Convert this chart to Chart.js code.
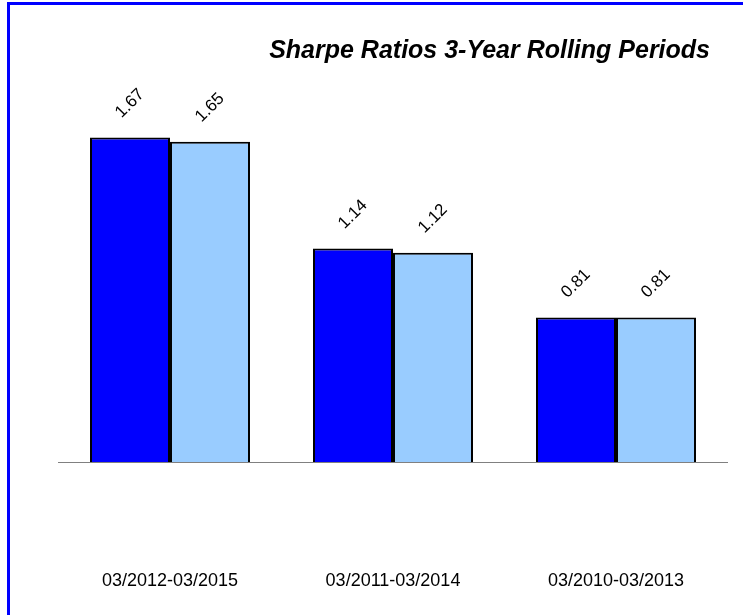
<!DOCTYPE html>
<html>
<head>
<meta charset="utf-8">
<script src="https://cdn.jsdelivr.net/npm/chart.js@4"></script>
<style>
    body { margin: 0; background: #fff; }
    .wrap { position: relative; width: 743px; height: 615px; overflow: hidden; }
    .frame {
        position: absolute; left: 7px; top: 2px; width: 760px; height: 640px;
        border-left: 3px solid #0000ff; border-top: 3px solid #0000ff;
        pointer-events: none;
    }
    canvas { position: absolute; left: 0; top: 0; }
</style>
</head>
<body>
<div class="wrap">
    <canvas id="myChart" width="743" height="615"></canvas>
    <div class="frame"></div>
</div>
<script>
const chartTitle = "Sharpe Ratios 3-Year Rolling Periods";
const periods = ["03/2012-03/2015", "03/2011-03/2014", "03/2010-03/2013"];
const seriesA = [1.67, 1.14, 0.81];
const seriesB = [1.65, 1.12, 0.81];

const fontFamily = "'Liberation Sans', Arial, sans-serif";

// rotated value labels above each bar
const valueLabels = {
    id: "valueLabels",
    afterDatasetsDraw: (chart) => {
        const ctx = chart.ctx;
        ctx.save();
        ctx.font = "17px " + fontFamily;
        ctx.fillStyle = "#000";
        ctx.textAlign = "center";
        ctx.textBaseline = "middle";
        chart.data.datasets.forEach((ds, i) => {
            chart.getDatasetMeta(i).data.forEach((bar, j) => {
                ctx.save();
                ctx.translate(bar.x, bar.y - 34);
                ctx.rotate(-Math.PI / 4);
                ctx.fillText(ds.data[j].toFixed(2), 0, 0);
                ctx.restore();
            });
        });
        ctx.restore();
    }
};

const titleText = {
    id: "titleText",
    afterDraw: (chart) => {
        const ctx = chart.ctx;
        ctx.save();
        ctx.font = "italic bold 25px " + fontFamily;
        ctx.fillStyle = "#000";
        ctx.textAlign = "right";
        ctx.textBaseline = "middle";
        ctx.fillText(chartTitle, 710, 51);
        ctx.restore();
    }
};

const ctx = document.getElementById("myChart");

const myChart = new Chart(ctx, {
    type: "bar",
    data: {
        labels: periods,
        datasets: [
            {
                data: seriesA,
                backgroundColor: "#0000ff",
                borderColor: "#000",
                borderWidth: 2,
                borderSkipped: false
            },
            {
                data: seriesB,
                backgroundColor: "#99ccff",
                borderColor: "#000",
                borderWidth: 2,
                borderSkipped: false
            }
        ]
    },
    options: {
        responsive: false,
        animation: false,
        devicePixelRatio: 1,
        layout: { padding: { left: 58.5, right: 15.5, top: 68.5, bottom: 13 } },
        plugins: {
            legend: { display: false },
            tooltip: { enabled: false },
            title: { display: false }
        },
        datasets: {
            bar: { categoryPercentage: 0.7175, barPercentage: 1.0 }
        },
        scales: {
            x: {
                grid: { display: false },
                border: { display: true, color: "#808080", width: 1 },
                ticks: {
                    color: "#000",
                    padding: 100,
                    font: { family: fontFamily, size: 18 }
                },
                // the big tick padding should not eat into the sides
                afterFit: (scale) => {
                    scale.height = 140;
                    scale.paddingLeft = 0;
                    scale.paddingRight = 0;
                    scale.paddingTop = 0;
                    scale.paddingBottom = 0;
                }
            },
            y: {
                display: false,
                min: 0.12,
                max: 2.0
            }
        }
    },
    plugins: [valueLabels, titleText]
});
</script>
</body>
</html>
